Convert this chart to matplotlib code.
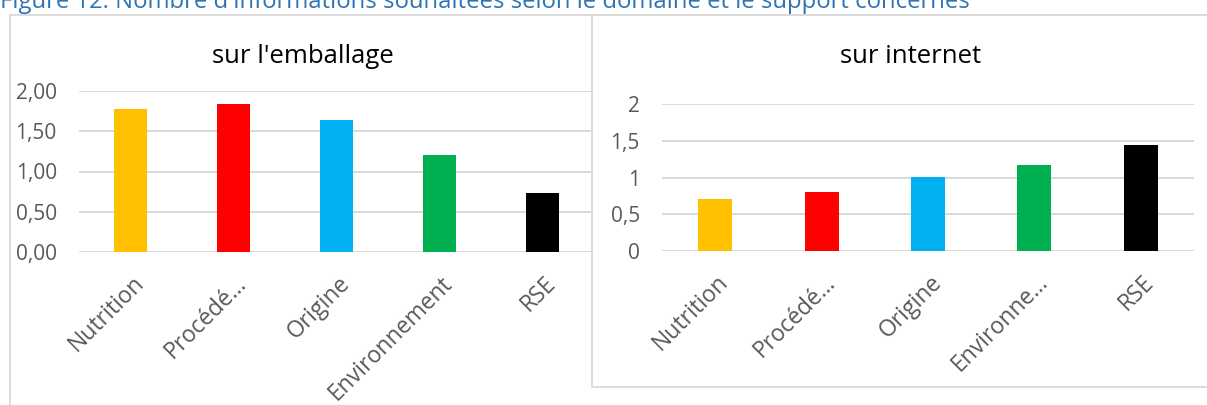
import matplotlib
matplotlib.use("Agg")
import matplotlib.pyplot as plt
import matplotlib.transforms as mtransforms
from matplotlib.patches import Rectangle

# data
cats_emb = ["Nutrition", "Procédé…", "Origine", "Environnement", "RSE"]
cats_web = ["Nutrition", "Procédé…", "Origine", "Environne…", "RSE"]
vals_emb = [1.78, 1.84, 1.64, 1.20, 0.73]
vals_web = [0.71, 0.80, 1.01, 1.17, 1.44]
colors = ["#FFC000", "#FF0000", "#00B0F0", "#00B050", "#000000"]
ticks_emb = ["0,00", "0,50", "1,00", "1,50", "2,00"]
ticks_web = ["0", "0,5", "1", "1,5", "2"]
fig_title = "Figure 12: Nombre d'informations souhaitées selon le domaine et le support concernés"

W, H = 1207, 405
plt.rcParams['font.family'] = ['Open Sans', 'DejaVu Sans']

fig = plt.figure(figsize=(W / 100, H / 100), dpi=100)


def box(x0, y0, x1, y1):
    # pixel coords (top-left origin) -> figure fraction rect
    return [x0 / W, 1 - y1 / H, (x1 - x0) / W, (y1 - y0) / H]


grid_col = "#D9D9D9"
lab_col = "#595959"

# chart frames
l = box(10, 15, 1300, 420)
fig.add_artist(Rectangle((l[0], l[1]), l[2], l[3], transform=fig.transFigure,
                         facecolor="white", edgecolor=grid_col, lw=1.3, zorder=-1))
r = box(592, 15, 1230, 387)
fig.add_artist(Rectangle((r[0], r[1]), r[2], r[3], transform=fig.transFigure,
                         facecolor="white", edgecolor=grid_col, lw=1.3, zorder=1))

fig.text(0, 1 - 8 / H, fig_title, color="#2E74B5", fontsize=17.2, va="baseline", ha="left")


def draw(ax, cats, vals, ticks):
    x = range(len(cats))
    ax.bar(x, vals, width=0.32, color=colors, zorder=3)
    ax.set_xlim(-0.5, len(cats) - 0.5)
    ax.set_ylim(0, 2)
    ax.set_yticks([0, 0.5, 1, 1.5, 2])
    ax.set_yticklabels(ticks)
    ax.set_facecolor("none")
    for s in ax.spines.values():
        s.set_visible(False)
    ax.grid(axis="y", color=grid_col, lw=1.4, zorder=0)
    ax.set_axisbelow(True)
    ax.tick_params(axis="y", length=0, pad=16, labelsize=15, labelcolor=lab_col)
    ax.tick_params(axis="x", length=0, pad=0)
    ax.set_xticks(list(x))
    ax.set_xticklabels(cats, rotation=45, ha="right", va="center",
                       rotation_mode="anchor", fontsize=16.5, color=lab_col)
    off = mtransforms.ScaledTranslation(10 / 100, -28 / 100, fig.dpi_scale_trans)
    for t in ax.get_xticklabels():
        t.set_transform(t.get_transform() + off)


ax1 = fig.add_axes(box(79, 91, 594, 252), zorder=0)
draw(ax1, cats_emb, vals_emb, ticks_emb)
ax2 = fig.add_axes(box(662, 104, 1194, 251), zorder=2)
draw(ax2, cats_web, vals_web, ticks_web)

fig.text(303 / W, 1 - 63 / H, "sur l'emballage", fontsize=18.5, ha="center", va="baseline", color="black")
fig.text(911 / W, 1 - 63 / H, "sur internet", fontsize=18.5, ha="center", va="baseline", color="black", zorder=3)

fig.savefig("out.png", dpi=100)
